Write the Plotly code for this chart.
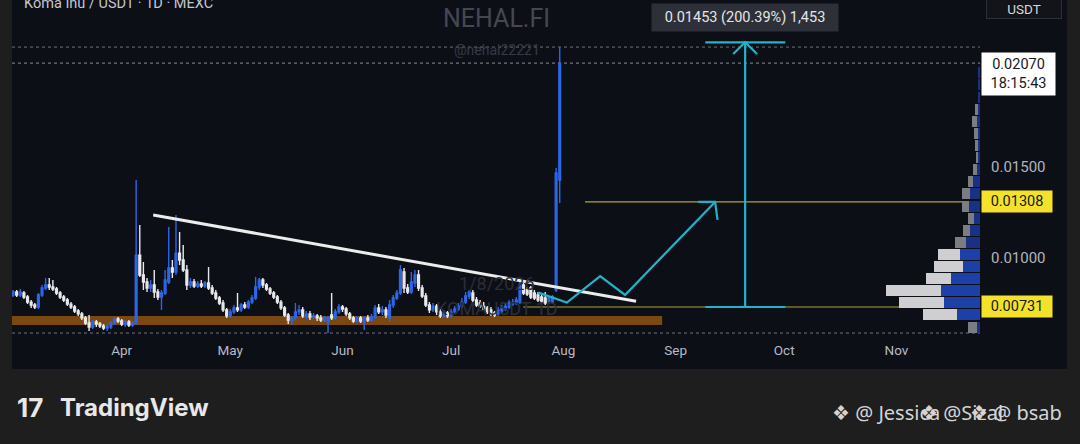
import pandas as pd
import plotly.graph_objects as go

# KOMA/USDT daily candles (MEXC), prices in ticks of 0.00001 USDT, first candle 2 Mar 2025
TICK = 0.00001
opens = [797, 813, 797, 808, 786, 758, 742, 731, 797, 835,
         852, 841, 830, 808, 786, 769, 747, 731, 709, 693,
         671, 643, 621, 649, 638, 627, 616, 621, 643, 665,
         654, 638, 649, 632, 643, 1016, 907, 868, 835, 852,
         813, 786, 808, 868, 945, 923, 1027, 989, 934, 852,
         868, 846, 857, 846, 863, 835, 808, 780, 753, 715,
         682, 704, 726, 715, 742, 731, 758, 780, 841, 879,
         852, 830, 808, 786, 758, 726, 687, 660, 671, 704,
         715, 682, 693, 676, 682, 671, 660, 649, 687, 671,
         704, 731, 720, 693, 671, 654, 671, 654, 671, 660,
         676, 726, 704, 715, 671, 742, 780, 808, 923, 835,
         813, 863, 907, 835, 791, 742, 715, 736, 704, 682,
         698, 682, 704, 720, 736, 758, 791, 808, 769, 753,
         736, 726, 715, 698, 693, 709, 720, 731, 747, 753,
         758, 852, 824, 835, 808, 797, 786, 780, 758, 758,
         824, 1428]
highs = [824, 824, 830, 819, 797, 769, 753, 808, 852, 890,
         890, 879, 841, 819, 797, 780, 758, 742, 720, 704,
         682, 687, 660, 660, 649, 638, 638, 654, 676, 676,
         665, 660, 660, 654, 1428, 1181, 978, 890, 879, 934,
         830, 824, 934, 1170, 989, 1236, 1143, 1071, 962, 890,
         885, 874, 879, 874, 951, 852, 824, 791, 769, 726,
         720, 742, 808, 753, 758, 769, 797, 896, 890, 890,
         863, 841, 819, 797, 769, 736, 698, 682, 753, 742,
         731, 709, 709, 698, 693, 687, 682, 682, 808, 720,
         747, 742, 731, 704, 682, 682, 682, 682, 687, 693,
         742, 747, 736, 731, 769, 797, 824, 962, 945, 857,
         923, 934, 934, 852, 808, 758, 753, 747, 720, 715,
         709, 720, 736, 753, 780, 813, 824, 824, 786, 769,
         758, 736, 731, 709, 731, 742, 753, 769, 775, 786,
         868, 863, 841, 846, 824, 813, 797, 813, 791, 797,
         1494, 2158]
lows = [786, 786, 786, 775, 747, 726, 720, 720, 786, 824,
        824, 819, 797, 775, 758, 736, 720, 698, 682, 660,
        632, 599, 610, 621, 616, 605, 599, 610, 632, 643,
        627, 621, 621, 621, 632, 896, 824, 813, 813, 780,
        769, 715, 797, 857, 890, 907, 962, 923, 824, 835,
        835, 835, 835, 835, 824, 797, 769, 742, 704, 671,
        671, 693, 704, 704, 720, 720, 747, 769, 824, 835,
        819, 797, 775, 747, 715, 676, 638, 632, 660, 687,
        671, 665, 660, 665, 654, 649, 649, 588, 660, 660,
        693, 704, 682, 660, 643, 643, 643, 605, 649, 649,
        665, 693, 687, 671, 649, 726, 769, 797, 808, 802,
        802, 841, 819, 780, 731, 698, 704, 687, 671, 671,
        671, 671, 693, 709, 726, 747, 775, 758, 731, 726,
        709, 693, 682, 676, 682, 698, 709, 720, 736, 742,
        747, 797, 791, 775, 769, 758, 753, 742, 747, 747,
        813, 1302]
closes = [813, 797, 813, 786, 758, 742, 731, 797, 835, 852,
          841, 830, 808, 786, 769, 747, 731, 709, 693, 671,
          643, 621, 649, 638, 627, 616, 627, 643, 665, 654,
          638, 649, 632, 643, 1016, 907, 868, 835, 852, 813,
          786, 808, 879, 945, 923, 1027, 989, 934, 852, 868,
          846, 857, 846, 863, 835, 808, 780, 753, 715, 682,
          704, 726, 715, 742, 731, 758, 780, 841, 879, 852,
          830, 808, 786, 758, 726, 687, 660, 671, 704, 715,
          682, 693, 676, 682, 671, 660, 671, 671, 671, 704,
          731, 720, 693, 671, 654, 671, 654, 671, 660, 676,
          726, 704, 715, 687, 742, 780, 808, 934, 835, 813,
          868, 907, 835, 791, 742, 715, 736, 704, 682, 698,
          682, 704, 720, 736, 758, 791, 813, 769, 742, 736,
          720, 704, 693, 687, 715, 726, 736, 753, 758, 769,
          852, 808, 802, 786, 780, 769, 764, 753, 780, 786,
          1467, 2070]
dates = pd.date_range("2025-03-02", periods=len(closes), freq="D")

# visible range profile (bottom row first), volume in arbitrary units
vp_prices = [0.00621, 0.00688, 0.00754, 0.00820, 0.00887, 0.00953, 0.01020, 0.01086,
             0.01153, 0.01219, 0.01285, 0.01352, 0.01418, 0.01485, 0.01551, 0.01618,
             0.01684, 0.01750, 0.01817, 0.01883, 0.01950, 0.02016]
vp_up = [0.33, 2.3, 3.6, 3.9, 2.9, 1.75, 2.0, 1.4, 1.0, 0.6, 1.07,
         1.0, 0.67, 0.27, 0.2, 0.2, 0.2, 0.3, 0.2, 0.2, 0.2, 0.2]
vp_down = [0.87, 3.4, 4.5, 5.5, 2.5, 2.85, 2.2, 1.1, 0.7, 0.6, 0.73,
           0.8, 0.53, 0.43, 0.2, 0.3, 0.4, 0.5, 0.3, 0.0, 0.0, 0.0]
value_area = [False, True, True, True, True, True, True, False, False, False, False,
              False, False, False, False, False, False, False, False, False, False, False]

# drawings
trend_dates = ["2025-04-09 17:00", "2025-08-21 02:00"]
trend_prices = [0.01236, 0.00762]
path_dates = ["2025-07-25 02:00", "2025-08-01 23:00", "2025-08-11 04:00",
              "2025-08-18 01:00", "2025-09-11 22:00"]
path_prices = [0.00810, 0.00755, 0.00901, 0.00797, 0.01308]
path_head_dates = ["2025-09-07 07:00", "2025-09-11 22:00", "2025-09-12 14:00"]
path_head_prices = [0.01308, 0.01308, 0.01209]
measure_date = "2025-09-20 05:00"
measure_cap = ["2025-09-09 05:00", "2025-10-01 07:00"]
measure_low, measure_high = 0.00731, 0.02184
measure_head_dates = ["2025-09-16 22:00", "2025-09-20 05:00", "2025-09-23 12:00"]
measure_head_prices = [0.02120, 0.02184, 0.02120]
support_zone = (0.00632, 0.00682)
support_dates = ["2025-02-20", "2025-08-28 07:00"]
level_top, level_top_from = 0.01308, "2025-08-07"
level_base, level_base_from = 0.00731, "2025-07-20 22:00"
high_price, last_price, low_price = 0.02158, 0.02070, 0.00588

month_ticks = ["2025-04-01", "2025-05-01", "2025-06-01", "2025-07-01",
               "2025-08-01", "2025-09-01", "2025-10-01", "2025-11-01"]
price_ticks = [0.01000, 0.01500]
x_range = ["2025-03-01 17:00", "2025-11-24 02:00"]
y_range = [0.005498, 0.024164]

BLUE = "#2d66e6"
WHITE = "#e9e9ec"
CYAN = "#22b3c8"
PANEL = "#0d0f17"
FONT = "Roboto, Noto Sans, sans-serif"

fig = go.Figure()

fig.add_trace(go.Bar(
    orientation="h", y=vp_prices, x=vp_up, xaxis="x2", width=0.00060,
    marker=dict(color=["#1d3fa8" if v else "#183184" for v in value_area], line_width=0),
))
fig.add_trace(go.Bar(
    orientation="h", y=vp_prices, x=vp_down, xaxis="x2", width=0.00060,
    marker=dict(color=["#cfcfd2" if v else "#7c7d82" for v in value_area], line_width=0),
))

fig.add_trace(go.Candlestick(
    x=dates,
    open=[v * TICK for v in opens], high=[v * TICK for v in highs],
    low=[v * TICK for v in lows], close=[v * TICK for v in closes],
    increasing=dict(line=dict(color=BLUE, width=1.4), fillcolor=BLUE),
    decreasing=dict(line=dict(color=WHITE, width=1.4), fillcolor=WHITE),
    whiskerwidth=0,
))

fig.add_trace(go.Scatter(x=trend_dates, y=trend_prices, mode="lines",
                         line=dict(color="#ececec", width=3)))
fig.add_trace(go.Scatter(x=path_dates, y=path_prices, mode="lines",
                         line=dict(color=CYAN, width=2.2)))
fig.add_trace(go.Scatter(x=path_head_dates, y=path_head_prices, mode="lines",
                         line=dict(color=CYAN, width=2.2)))
fig.add_trace(go.Scatter(
    x=[measure_date, measure_date, None, measure_cap[0], measure_cap[1], None,
       measure_cap[0], measure_cap[1], None] + measure_head_dates,
    y=[measure_low, measure_high, None, measure_high, measure_high, None,
       measure_low, measure_low, None] + measure_head_prices,
    mode="lines", line=dict(color=CYAN, width=2.2)))

shapes = [
    # chart panel
    dict(type="rect", xref="paper", yref="paper", x0=0, x1=1.0899, y0=-0.0853, y1=1,
         fillcolor=PANEL, line_width=0, layer="below"),
    dict(type="rect", xref="x", yref="y", x0=support_dates[0], x1=support_dates[1],
         y0=support_zone[0], y1=support_zone[1], fillcolor="#7a4812", line_width=0, layer="below"),
    dict(type="line", xref="x", yref="y", x0=level_top_from, x1=x_range[1], y0=level_top, y1=level_top,
         line=dict(color="rgba(222,196,70,0.8)", width=1.2), layer="below"),
    dict(type="line", xref="x", yref="y", x0=level_base_from, x1=x_range[1], y0=level_base, y1=level_base,
         line=dict(color="rgba(222,196,70,0.8)", width=1.2), layer="below"),
]
for lvl, col in [(high_price, "#6f727c"), (last_price, "#8d909a"), (low_price, "#6f727c")]:
    shapes.append(dict(type="line", xref="paper", yref="y", x0=0, x1=1, y0=lvl, y1=lvl,
                       line=dict(color=col, width=1, dash="dot"), layer="below"))


def px_x(px):
    return (px - 12) / 968


def px_y(py):
    return (340 - py) / 340


def label(text, x, y, size, color, yref="paper", xanchor="center", **kw):
    return dict(text=text, xref="paper", yref=yref, x=x, y=y, xanchor=xanchor,
                yanchor=kw.pop("yanchor", "middle"), showarrow=False,
                font=dict(size=size, color=color, family=kw.pop("family", FONT)), **kw)


annotations = [
    label("Koma Inu / USDT · 1D · MEXC", px_x(22), px_y(4), 14.5, "#c4c6cd", xanchor="left"),
    label("NEHAL.FI", px_x(497), px_y(18), 25, "#454853"),
    label("@nehal22221", px_x(497), px_y(50), 14, "#373a44"),
    label("1/8/2026", px_x(497), px_y(283), 18, "#2b2e38"),
    label("KOMAUSDT 1D", px_x(497), px_y(308), 18, "#2b2e38"),
    label("0.01453 (200.39%) 1,453", px_x(745), px_y(17.5), 14.5, "#e4e5e8",
          bgcolor="#2e3039", width=180, height=21, borderpad=3),
    label("USDT", px_x(1024), px_y(8), 13.5, "#d6d7db", bgcolor="#12141a",
          bordercolor="#2c2f37", borderwidth=1, width=72, height=17, borderpad=1),
    label("0.02070<br>18:15:43", px_x(1018.5), last_price, 14.5, "#16181f", yref="y",
          yanchor="top", yshift=11, bgcolor="#ffffff", width=67, borderpad=3, align="center"),
    label("0.01308", px_x(1017), level_top, 14.5, "#16181f", yref="y",
          bgcolor="#f4e22a", width=66, height=17, borderpad=2),
    label("0.00731", px_x(1017), level_base, 14.5, "#16181f", yref="y",
          bgcolor="#f4e22a", width=66, height=17, borderpad=2),
    # footer
    label("<b>17</b>", px_x(15), px_y(407), 26, "#e8e8e8", xanchor="left", family="Inter"),
    label("<b>TradingView</b>", px_x(58), px_y(407), 24, "#e8e8e8", xanchor="left", family="Inter"),
]
for left, txt in [(830, "❖ @ Jessica"), (918, "❖ @Sizal"), (968, "❖ @ bsab")]:
    annotations.append(label(txt, px_x(left), px_y(413), 20, "#d4d4d6",
                             xanchor="left", family="Noto Sans"))

fig.update_layout(
    width=1080, height=444,
    margin=dict(l=12, r=100, t=0, b=104),
    paper_bgcolor="#1e1e1f", plot_bgcolor=PANEL,
    font=dict(family=FONT, color="#b2b5be"),
    showlegend=False, hovermode=False, barmode="stack", bargap=0,
    shapes=shapes, annotations=annotations,
    xaxis=dict(type="date", range=x_range, tickvals=month_ticks, tickformat="%b",
               showgrid=False, zeroline=False, showline=False, rangeslider_visible=False,
               tickfont=dict(size=13.5, color="#b8bbc4"), fixedrange=True),
    xaxis2=dict(overlaying="x", range=[96.8, 0], visible=False, fixedrange=True),
    yaxis=dict(side="right", range=y_range, tickvals=price_ticks,
               ticktext=[f"{v:.5f}" for v in price_ticks], showgrid=False, zeroline=False,
               showline=False, ticklabelstandoff=10,
               tickfont=dict(size=15, color="#b2b5be"), fixedrange=True),
)

fig.write_html("out.html", config={"displayModeBar": False},
               post_script="document.body.style.margin='0';")
